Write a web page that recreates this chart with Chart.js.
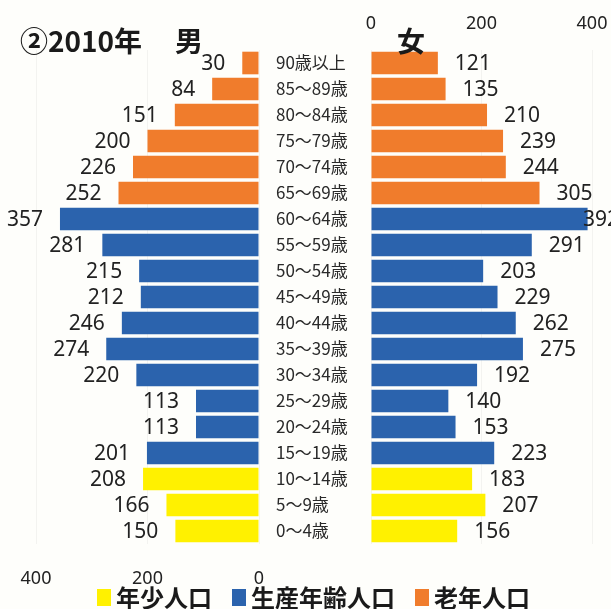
<!DOCTYPE html>
<html lang="ja">
<head>
<meta charset="utf-8">
<script src="https://cdn.jsdelivr.net/npm/chart.js@4"></script>
<style>
  html, body { margin: 0; padding: 0; background: #fefefb; }
  #wrap { position: relative; width: 611px; height: 609px; overflow: hidden; background: #fefefb; }
  canvas { position: absolute; top: 0; }
  #left { left: 0; }
  #right { left: 261px; }
  .title { position: absolute; font-family: "Noto Sans CJK JP", sans-serif; font-weight: bold; font-size: 28px; line-height: 1; color: #1a1a1a; }
  #legend { position: absolute; left: 97px; top: 585px; display: flex; align-items: center;
            font-family: "Noto Sans CJK JP", sans-serif; font-weight: bold; font-size: 24px; line-height: 1; color: #1a1a1a; }
  #legend .sw { display: inline-block; width: 14px; height: 17px; margin-right: 5px; }
  #legend .item { display: flex; align-items: center; margin-right: 20px; }
</style>
</head>
<body>
<div id="wrap">
  <canvas id="left" width="270" height="609"></canvas>
  <canvas id="right" width="350" height="609"></canvas>
  <div class="title" style="left:20px; top:26px;">②2010年<span style="margin-left:33px;">男</span></div>
  <div class="title" style="left:397px; top:26px;">女</div>
  <div id="legend"></div>
</div>
<script>
// 年齢階級（上から）
const ages = ['90歳以上', '85～89歳', '80～84歳', '75～79歳', '70～74歳', '65～69歳',
  '60～64歳', '55～59歳', '50～54歳', '45～49歳', '40～44歳', '35～39歳', '30～34歳',
  '25～29歳', '20～24歳', '15～19歳', '10～14歳', '5～9歳', '0～4歳'];

const male = [30, 84, 151, 200, 226, 252, 357, 281, 215, 212, 246, 274, 220, 113, 113, 201, 208, 166, 150];
const female = [121, 135, 210, 239, 244, 305, 392, 291, 203, 229, 262, 275, 192, 140, 153, 223, 183, 207, 156];

const xTicks = [0, 200, 400];

const groups = ['年少人口', '生産年齢人口', '老年人口'];
const groupColors = ['#fff100', '#2b63ad', '#f07c2c'];

// 年齢階級ごとの区分（65歳以上＝老年、15～64歳＝生産年齢、14歳以下＝年少）
function groupIndex(label) {
  const start = parseInt(label, 10);
  if (start >= 65) return 2;
  if (start >= 15) return 1;
  return 0;
}
const barColors = ages.map(a => groupColors[groupIndex(a)]);

const textColor = '#222';
const gridColor = 'rgba(0,0,0,0.045)';

// 棒の端に数値を描く
const valueLabels = {
  id: 'valueLabels',
  afterDatasetsDraw(chart, args, opts) {
    const ctx = chart.ctx;
    const meta = chart.getDatasetMeta(0);
    const values = chart.data.datasets[0].data;
    ctx.save();
    ctx.font = '21px "Noto Sans"';
    ctx.fillStyle = textColor;
    ctx.textBaseline = 'middle';
    meta.data.forEach((bar, i) => {
      const text = String(values[i]);
      if (opts.side === 'left') {
        ctx.textAlign = 'right';
        ctx.fillText(text, bar.x - 17, bar.y + 1);
      } else {
        ctx.textAlign = 'left';
        const w = ctx.measureText(text).width;
        const x = Math.min(bar.x + 17, chart.width - w + 8);
        ctx.fillText(text, x, bar.y + 1);
      }
    });
    ctx.restore();
  }
};

const tickFont = { family: '"Noto Sans"', size: 18 };

// 目盛りラベルのはみ出し分で描画領域が縮まないように
function fixedX(height) {
  return s => {
    s.height = height;
    s.paddingLeft = 0;
    s.paddingRight = 0;
  };
}

const barSet = (values) => ({
  data: values,
  backgroundColor: barColors,
  barPercentage: 0.87,
  categoryPercentage: 1
});

// 男（左、右から左へ伸びる）
new Chart(document.getElementById('left'), {
  type: 'bar',
  data: { labels: ages, datasets: [barSet(male)] },
  options: {
    indexAxis: 'y',
    responsive: false,
    animation: false,
    layout: { padding: { top: 50, left: 36, right: 11, bottom: 0 } },
    scales: {
      x: {
        reverse: true,
        min: 0,
        max: 400,
        afterBuildTicks: s => { s.ticks = xTicks.map(v => ({ value: v })); },
        ticks: { padding: 24, font: tickFont, color: textColor, maxRotation: 0 },
        grid: { color: gridColor, drawTicks: false },
        border: { display: false },
        afterFit: fixedX(65)
      },
      y: { display: false }
    },
    plugins: {
      legend: { display: false },
      tooltip: { enabled: false },
      valueLabels: { side: 'left' }
    }
  },
  plugins: [valueLabels]
});

// 女（右）、年齢階級ラベルは中央に
new Chart(document.getElementById('right'), {
  type: 'bar',
  data: { labels: ages, datasets: [barSet(female)] },
  options: {
    indexAxis: 'y',
    responsive: false,
    animation: false,
    layout: { padding: { top: 0, left: 15, right: 19, bottom: 65 } },
    scales: {
      x: {
        position: 'top',
        min: 0,
        max: 400,
        afterBuildTicks: s => { s.ticks = xTicks.map(v => ({ value: v })); },
        ticks: { padding: 15, font: tickFont, color: textColor, maxRotation: 0 },
        grid: { color: gridColor, drawTicks: false },
        border: { display: false },
        afterFit: fixedX(50)
      },
      y: {
        position: 'left',
        ticks: {
          crossAlign: 'far',
          font: { family: '"Noto Sans CJK JP"', size: 17 },
          color: '#2a2a2a'
        },
        grid: { display: false },
        border: { display: false },
        afterFit: s => { s.width = 95; }
      }
    },
    plugins: {
      legend: { display: false },
      tooltip: { enabled: false },
      valueLabels: { side: 'right' }
    }
  },
  plugins: [valueLabels]
});

// 凡例
const legend = document.getElementById('legend');
groups.forEach((g, i) => {
  const item = document.createElement('span');
  item.className = 'item';
  item.innerHTML = `<span class="sw" style="background:${groupColors[i]}"></span>${g}`;
  legend.appendChild(item);
});
</script>
</body>
</html>
